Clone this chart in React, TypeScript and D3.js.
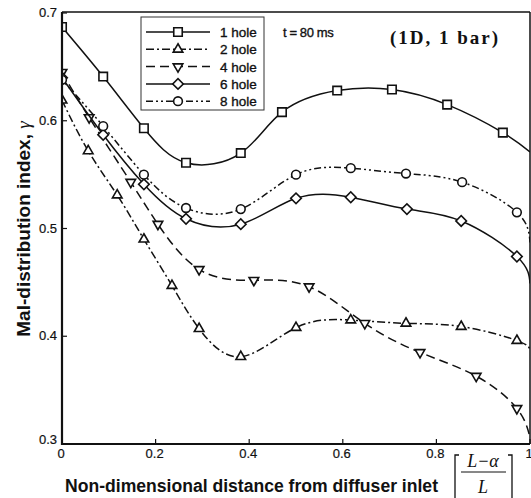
//@ts-nocheck
import * as d3 from 'd3';
import { useEffect, useRef } from 'react';

// Values: x = (L - a) / L, y = mal-distribution index
const xHole1 = [0, 0.088, 0.175, 0.265, 0.382, 0.47, 0.588, 0.705, 0.823, 0.942, 1];
const yHole1 = [0.687, 0.641, 0.593, 0.561, 0.57, 0.608, 0.628, 0.629, 0.615, 0.589, 0.571];

const xHole2 = [0, 0.056, 0.118, 0.175, 0.235, 0.293, 0.382, 0.5, 0.617, 0.735, 0.853, 0.972, 1];
const yHole2 = [0.619, 0.572, 0.531, 0.49, 0.447, 0.407, 0.381, 0.408, 0.415, 0.412, 0.409, 0.396, 0.387];

const xHole4 = [0, 0.058, 0.147, 0.205, 0.293, 0.41, 0.528, 0.647, 0.765, 0.885, 0.972, 1];
const yHole4 = [0.645, 0.603, 0.543, 0.504, 0.462, 0.452, 0.446, 0.412, 0.385, 0.363, 0.333, 0.306];

const xHole6 = [0, 0.088, 0.175, 0.265, 0.382, 0.5, 0.617, 0.737, 0.853, 0.972, 1];
const yHole6 = [0.64, 0.587, 0.541, 0.509, 0.504, 0.528, 0.529, 0.518, 0.507, 0.474, 0.449];

const xHole8 = [0, 0.088, 0.175, 0.265, 0.382, 0.5, 0.617, 0.735, 0.855, 0.972, 1];
const yHole8 = [0.638, 0.595, 0.55, 0.519, 0.518, 0.55, 0.556, 0.551, 0.543, 0.515, 0.487];

const seriesNames = ['1 hole', '2 hole', '4 hole', '6 hole', '8 hole'];
const xTicks = [0, 0.2, 0.4, 0.6, 0.8, 1];
const yTicks = [0.3, 0.4, 0.5, 0.6, 0.7];

export default function App() {
  const ref = useRef<SVGSVGElement>(null);

  useEffect(() => {
    const svg = d3.select(ref.current);
    svg.selectAll('*').remove();

    const SIZES = { WIDTH: 531, HEIGHT: 498, LEFT: 62, RIGHT: 530, TOP: 13, BOTTOM: 444 };

    const x = d3.scaleLinear().domain([0, 1]).range([SIZES.LEFT, SIZES.RIGHT]);
    const y = d3.scaleLinear().domain([0.3, 0.7]).range([SIZES.BOTTOM, SIZES.TOP]);

    const series = [
      { name: seriesNames[0], xs: xHole1, ys: yHole1, dash: null, marker: 'square' },
      { name: seriesNames[1], xs: xHole2, ys: yHole2, dash: '8,3,2,3', marker: 'up' },
      { name: seriesNames[2], xs: xHole4, ys: yHole4, dash: '9,5', marker: 'down' },
      { name: seriesNames[3], xs: xHole6, ys: yHole6, dash: null, marker: 'diamond' },
      { name: seriesNames[4], xs: xHole8, ys: yHole8, dash: '7,3,2,3,2,3', marker: 'circle' },
    ];

    // marker shapes
    const markerPath = (kind: string) => {
      if (kind === 'square') return d3.symbol(d3.symbolSquare, 72)();
      if (kind === 'up' || kind === 'down') return d3.symbol(d3.symbolTriangle, 40)();
      if (kind === 'diamond') return d3.symbol(d3.symbolSquare, 56)();
      return d3.symbol(d3.symbolCircle, 60)();
    };
    const markerRotate = (kind: string) => (kind === 'down' ? 180 : kind === 'diamond' ? 45 : 0);

    const font = 'Arial, "Liberation Sans", Helvetica, sans-serif';
    const serif = '"Liberation Serif", "Times New Roman", serif';

    // clip for the curves
    svg
      .append('clipPath')
      .attr('id', 'plot-clip')
      .append('rect')
      .attr('x', SIZES.LEFT)
      .attr('y', SIZES.TOP - 2)
      .attr('width', SIZES.RIGHT - SIZES.LEFT)
      .attr('height', SIZES.BOTTOM - SIZES.TOP + 2);

    const line = d3.line<number>().curve(d3.curveNatural);

    const gLines = svg.append('g').attr('clip-path', 'url(#plot-clip)');

    series.forEach((s) => {
      const pts = s.xs.map((v, i) => [x(v), y(s.ys[i])]);
      gLines
        .append('path')
        .attr('d', line(pts))
        .attr('fill', 'none')
        .attr('stroke', '#111')
        .attr('stroke-width', 1.5)
        .attr('stroke-dasharray', s.dash);

      // markers on all but the end point at x = 1
      gLines
        .selectAll(null)
        .data(s.xs.map((v, i) => ({ xv: v, yv: s.ys[i] })).filter((d) => d.xv < 1))
        .enter()
        .append('path')
        .attr('d', markerPath(s.marker))
        .attr('transform', (d) => `translate(${x(d.xv)},${y(d.yv)}) rotate(${markerRotate(s.marker)})`)
        .attr('fill', 'white')
        .attr('stroke', '#111')
        .attr('stroke-width', 1.6);
    });

    // frame
    const frame = svg.append('g').attr('fill', 'none').attr('stroke', '#111');
    frame
      .append('line')
      .attr('x1', SIZES.LEFT).attr('x2', SIZES.RIGHT)
      .attr('y1', SIZES.TOP - 1).attr('y2', SIZES.TOP - 1)
      .attr('stroke-width', 1.5);
    frame
      .append('line')
      .attr('x1', SIZES.RIGHT).attr('x2', SIZES.RIGHT)
      .attr('y1', SIZES.TOP - 1).attr('y2', SIZES.BOTTOM)
      .attr('stroke-width', 1.5);
    frame
      .append('line')
      .attr('x1', SIZES.LEFT).attr('x2', SIZES.LEFT)
      .attr('y1', SIZES.TOP - 1).attr('y2', SIZES.BOTTOM + 1)
      .attr('stroke-width', 2.2);
    frame
      .append('line')
      .attr('x1', SIZES.LEFT - 1).attr('x2', SIZES.RIGHT)
      .attr('y1', SIZES.BOTTOM).attr('y2', SIZES.BOTTOM)
      .attr('stroke-width', 2.2);

    // x ticks (inward)
    const gx = svg.append('g');
    xTicks.forEach((t) => {
      gx.append('line')
        .attr('x1', x(t)).attr('x2', x(t))
        .attr('y1', SIZES.BOTTOM).attr('y2', SIZES.BOTTOM - 5)
        .attr('stroke', '#111').attr('stroke-width', 1.2);
      gx.append('text')
        .attr('x', x(t) - 1)
        .attr('y', SIZES.BOTTOM + 14)
        .attr('text-anchor', 'middle')
        .attr('font-family', font)
        .attr('font-size', 13)
        .attr('fill', '#111')
        .attr('stroke', '#111')
        .attr('stroke-width', 0.2)
        .text(d3.format('~g')(t));
    });

    // y ticks (inward)
    const gy = svg.append('g');
    yTicks.forEach((t) => {
      gy.append('line')
        .attr('x1', SIZES.LEFT).attr('x2', SIZES.LEFT + 5)
        .attr('y1', y(t)).attr('y2', y(t))
        .attr('stroke', '#111').attr('stroke-width', 1.2);
      gy.append('text')
        .attr('x', SIZES.LEFT - 5)
        .attr('y', y(t) + (t === 0.3 ? 0 : 4))
        .attr('text-anchor', 'end')
        .attr('font-family', font)
        .attr('font-size', 13)
        .attr('fill', '#111')
        .attr('stroke', '#111')
        .attr('stroke-width', 0.2)
        .text(d3.format('.1f')(t));
    });

    // axis titles
    svg
      .append('text')
      .attr('x', 65)
      .attr('y', 492)
      .attr('font-family', font)
      .attr('font-weight', 'bold')
      .attr('font-size', 18)
      .attr('textLength', 373)
      .attr('lengthAdjust', 'spacingAndGlyphs')
      .attr('fill', '#111')
      .text('Non-dimensional distance from diffuser inlet');

    const yTitle = svg
      .append('text')
      .attr('transform', 'translate(30,229) rotate(-90)')
      .attr('text-anchor', 'middle')
      .attr('font-family', font)
      .attr('font-weight', 'bold')
      .attr('font-size', 19)
      .attr('fill', '#111');
    yTitle.append('tspan').text('Mal-distribution index, ');
    yTitle
      .append('tspan')
      .attr('font-family', serif)
      .attr('font-style', 'italic')
      .attr('font-weight', 'normal')
      .text('γ');

    // fraction [ (L - α) / L ]
    const frac = svg.append('g').attr('stroke', '#111').attr('fill', 'none').attr('stroke-width', 1.3);
    frac.append('path').attr('d', 'M459,455 L455,455 L455,506');
    frac.append('path').attr('d', 'M508,455 L512,455 L512,506');
    frac.append('line').attr('x1', 461).attr('x2', 506).attr('y1', 472).attr('y2', 472).attr('stroke-width', 1);
    svg
      .append('text')
      .attr('x', 483)
      .attr('y', 467)
      .attr('text-anchor', 'middle')
      .attr('font-family', serif)
      .attr('font-style', 'italic')
      .attr('font-size', 18)
      .attr('fill', '#111')
      .text('L\u2212\u03b1');
    svg
      .append('text')
      .attr('x', 483)
      .attr('y', 493)
      .attr('text-anchor', 'middle')
      .attr('font-family', serif)
      .attr('font-style', 'italic')
      .attr('font-size', 18)
      .attr('fill', '#111')
      .text('L');

    // legend
    const legend = svg.append('g');
    legend
      .append('rect')
      .attr('x', 141)
      .attr('y', 17)
      .attr('width', 123)
      .attr('height', 93)
      .attr('fill', 'white')
      .attr('stroke', '#333')
      .attr('stroke-width', 1);
    series.forEach((s, i) => {
      const ly = 32 + i * 17.3;
      legend
        .append('line')
        .attr('x1', 146).attr('x2', 210)
        .attr('y1', ly).attr('y2', ly)
        .attr('stroke', '#111')
        .attr('stroke-width', 1.5)
        .attr('stroke-dasharray', s.dash);
      legend
        .append('path')
        .attr('d', markerPath(s.marker))
        .attr('transform', `translate(178,${ly}) rotate(${markerRotate(s.marker)})`)
        .attr('fill', 'white')
        .attr('stroke', '#111')
        .attr('stroke-width', 1.6);
      legend
        .append('text')
        .attr('x', 220)
        .attr('y', ly + 5)
        .attr('font-family', font)
        .attr('font-size', 13.5)
        .attr('fill', '#111')
        .attr('stroke', '#111')
        .attr('stroke-width', 0.35)
        .text(s.name);
    });

    // annotations
    svg
      .append('text')
      .attr('x', 283)
      .attr('y', 37)
      .attr('font-family', font)
      .attr('font-size', 13)
      .attr('letter-spacing', -0.4)
      .attr('fill', '#111')
      .attr('stroke', '#111')
      .attr('stroke-width', 0.35)
      .text('t = 80 ms');
    svg
      .append('text')
      .attr('x', 390)
      .attr('y', 44)
      .attr('font-family', serif)
      .attr('font-weight', 'bold')
      .attr('font-size', 19)
      .attr('textLength', 108)
      .attr('lengthAdjust', 'spacing')
      .attr('fill', '#111')
      .text('(1D, 1 bar)');
  }, []);

  return (
    <svg
      ref={ref}
      width={531}
      height={498}
      style={{ position: 'absolute', left: 0, top: 0, background: 'white' }}
    />
  );
}
